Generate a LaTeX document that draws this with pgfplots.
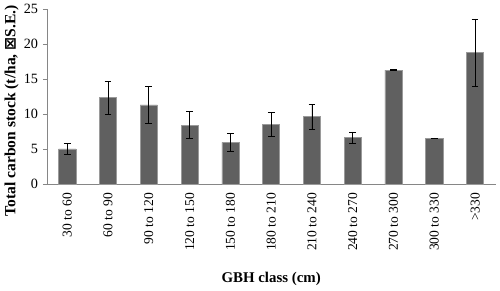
\documentclass[border=0pt]{standalone}
\usepackage{fontspec}
\setmainfont{Liberation Serif}
\newfontfamily\symfont{DejaVu Sans}
\usepackage{pgfplots}
\pgfplotsset{compat=1.18}
\definecolor{barfill}{HTML}{606060}
\definecolor{baredge}{HTML}{9A9A9A}
\definecolor{axgray}{HTML}{868686}
\begin{document}
\begin{tikzpicture}
\begin{axis}[
  scale only axis,
  width=332pt, height=129.5pt,
  xmin=-0.5, xmax=10.5,
  ymin=0, ymax=25,
  ytick={0,5,10,15,20,25},
  xtick={0,...,10},
  xticklabels={30 to 60,60 to 90,90 to 120,120 to 150,150 to 180,180 to 210,210 to 240,240 to 270,270 to 300,300 to 330,>330},
  x tick label style={rotate=90, anchor=east, font=\fontsize{10}{12}\selectfont},
  y tick label style={font=\fontsize{10.5}{12}\selectfont},
  /pgf/number format/assume math mode=true,
  axis x line=bottom, axis y line=left,
  axis line style={axgray, -},
  every tick/.style={axgray},
  major x tick style={draw=none},
  extra x ticks={-0.5,0.5,...,10.5},
  extra x tick labels={},
  extra x tick style={major tick length=4pt, tickwidth=4pt, tick align=outside, major x tick style={axgray}},
  tick align=outside,
  major tick length=3pt,
  xlabel={\bfseries GBH class (cm)},
  ylabel={\bfseries Total carbon stock (t/ha, {\symfont ⊠}S.E.)},
  xlabel style={font=\fontsize{11}{13}\selectfont, yshift=-2pt},
  ylabel style={font=\fontsize{11.5}{13}\selectfont, at={(ticklabel cs:0.42)}, yshift=-3pt},
]
\addplot[ybar, bar width=0.42, fill=barfill, draw=baredge,
  error bars/.cd, y dir=both, y explicit,
  error bar style={black, line width=0.6pt},
  error mark options={black, line width=0.6pt, mark size=2.5pt, rotate=90}]
coordinates {
(0,5.07) +- (0,0.78)
(1,12.36) +- (0,2.32)
(2,11.35) +- (0,2.65)
(3,8.45) +- (0,1.95)
(4,5.99) +- (0,1.28)
(5,8.54) +- (0,1.69)
(6,9.65) +- (0,1.76)
(7,6.66) +- (0,0.82)
(8,16.31) +- (0,0.05)
(9,6.57) +- (0,0.05)
(10,18.81) +- (0,4.8)
};
\end{axis}
\end{tikzpicture}
\end{document}
